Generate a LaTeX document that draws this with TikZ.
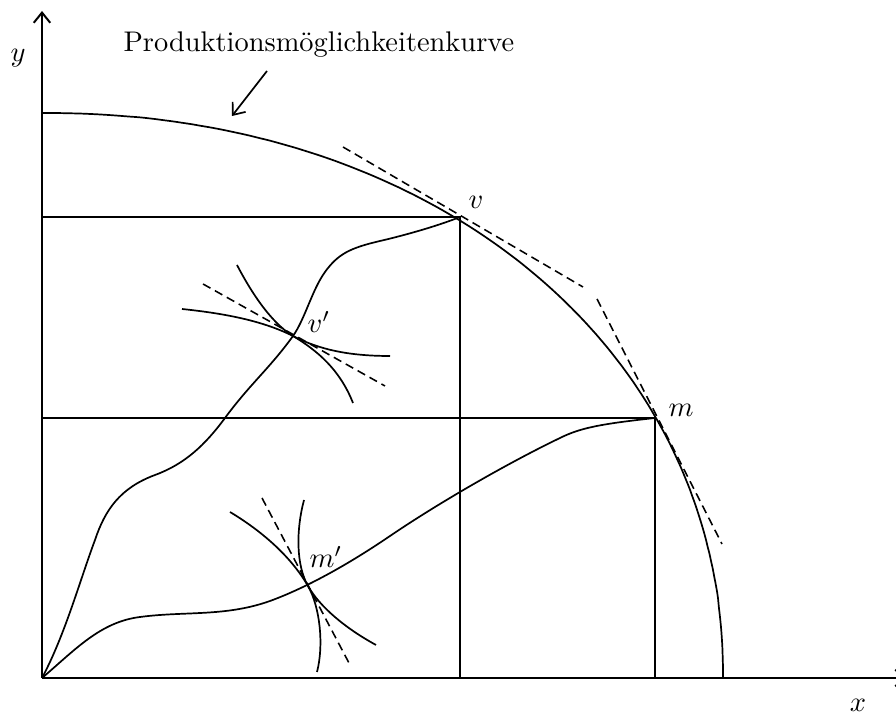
\documentclass[tikz,border=0pt]{standalone}
\usetikzlibrary{arrows.meta}
\begin{document}
\begin{tikzpicture}[x=0.352pt,y=-0.352pt,
  ln/.style={line width=0.6pt},
  axis/.style={line width=0.7pt,-{Straight Barb[length=3.6pt,width=5.8pt,line width=0.7pt]}},
  tang/.style={line width=0.55pt,dash pattern=on 3pt off 1.8pt},
  crv/.style={line width=0.6pt},
  lbl/.style={inner sep=0pt}]
\useasboundingbox (0,0) rectangle (896,716);
% key points
\coordinate (O) at (42,678);
\coordinate (ytop) at (42,11);
\coordinate (xend) at (907,678);
\coordinate (v) at (460,217);
\coordinate (m) at (655,418);
\coordinate (vp) at (293,336);
\coordinate (mp) at (308,586);
\coordinate (vy) at (42,217);
\coordinate (vx) at (460,678);
\coordinate (my) at (42,418);
\coordinate (mx) at (655,678);
\coordinate (ppfy) at (42,113);
\coordinate (ppfx) at (723,678);
% axes
\draw[axis] (O) -- (ytop);
\draw[axis] (O) -- (xend);
\node[lbl] (ylab) at (18,58) {$y$};
\node[lbl] (xlab) at (858,705) {$x$};
% production possibility curve
\draw[crv] (ppfy) -- plot[domain=89.5:0.5,samples=120,smooth]
   ({42+681*(cos(\x))^0.952},{678-565*(sin(\x))^0.952}) -- (ppfx);
% label and arrow
\node[lbl,anchor=base west] (title) at (123,52) {Produktionsm\"oglichkeitenkurve};
\coordinate (atail) at (267,71);
\coordinate (atip) at (232,116);
\draw[line width=0.6pt,-{Straight Barb[length=3.6pt,width=5.8pt,line width=0.6pt]}] (atail) -- (atip);
% rectangles
\draw[ln] (vy) -- (v) -- (vx);
\draw[ln] (my) -- (m) -- (mx);
% tangents on the curve
\draw[tang] (343,147) -- (583,287);
\draw[tang] (597,299) -- (722,544);
\node[lbl] (lv) at (476,202) {$v$};
\node[lbl] (lm) at (681,410) {$m$};
% contract curve to v
\draw[crv] (O) .. controls (65,635) and (80,580) .. (95,540)
  .. controls (105,510) and (120,488) .. (155,475)
  .. controls (185,464) and (205,445) .. (225,418)
  .. controls (250,384) and (270,368) .. (vp)
  .. controls (305,319) and (312,290) .. (325,272)
  .. controls (338,254) and (350,248) .. (380,241)
  .. controls (410,234) and (440,225) .. (v);
% contract curve to m
\draw[crv] (O) .. controls (75,650) and (100,622) .. (140,617)
  .. controls (185,611) and (225,617) .. (270,601)
  .. controls (300,590) and (340,570) .. (390,536)
  .. controls (440,502) and (510,462) .. (560,438)
  .. controls (580,428) and (600,424) .. (m);
% indifference curves at v'
\draw[crv] (182,309) .. controls (230,314) and (265,322) .. (vp)
  .. controls (320,350) and (350,356) .. (390,356);
\draw[crv] (237,265) .. controls (250,290) and (270,322) .. (vp)
  .. controls (318,351) and (340,370) .. (353,403);
\draw[tang] (203,284) -- (385,386);
\node[lbl] (lvp) at (319,322) {$v'$};
% indifference curves at m'
\draw[crv] (230,512) .. controls (260,530) and (290,555) .. (mp)
  .. controls (320,607) and (345,628) .. (376,645);
\draw[crv] (304,500) .. controls (296,530) and (296,565) .. (mp)
  .. controls (320,607) and (324,645) .. (317,672);
\draw[tang] (262,498) -- (349,663);
\node[lbl] (lmp) at (326,557) {$m'$};
\end{tikzpicture}
\end{document}
